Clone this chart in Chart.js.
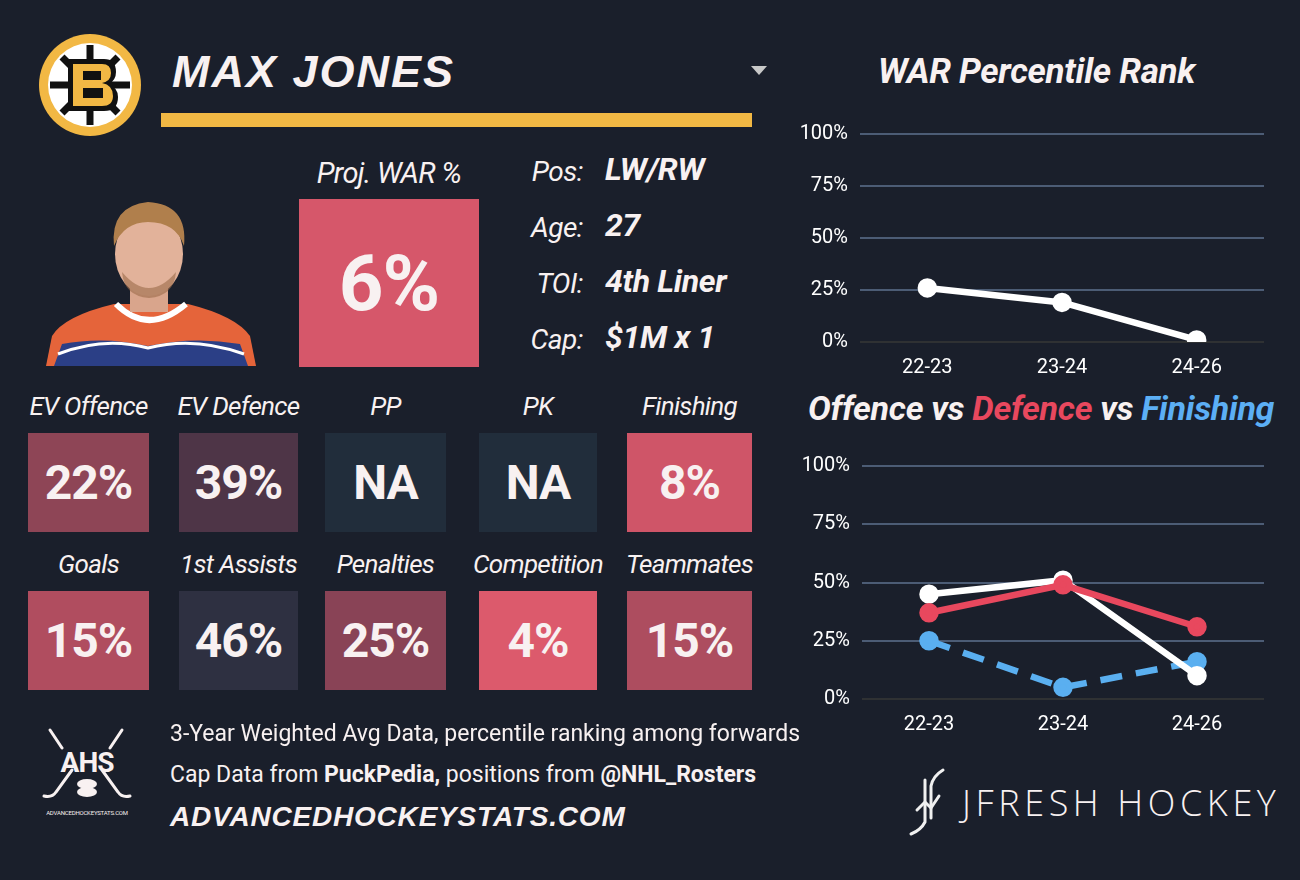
<!DOCTYPE html>
<html>
<head>
<meta charset="utf-8">
<script src="https://cdn.jsdelivr.net/npm/chart.js@4/dist/chart.umd.min.js"></script>
<style>
  body { margin: 0; background: #1a1f2b; width: 1300px; height: 880px; overflow: hidden;
         font-family: Roboto, "Noto Sans", sans-serif; color: #f8f1f1; }
  .abs { position: absolute; }
  .name { left: 172px; top: 46px; font: italic 900 45px "Liberation Sans", Arial, sans-serif; letter-spacing: 2px; }
  .bar { left: 161px; top: 113px; width: 591px; height: 14px; background: #f2b844; }
  .tri { left: 751px; top: 66px; width: 0; height: 0; border-left: 8px solid transparent;
         border-right: 8px solid transparent; border-top: 9px solid #c8c8c8; }
  .title { font: italic bold 35px Roboto, sans-serif; white-space: nowrap; letter-spacing: -0.3px; }
  .lbl { font-style: italic; font-size: 26px; text-align: center; white-space: nowrap; letter-spacing: -0.7px; }
  .tile { display: flex; align-items: center; justify-content: center;
          font: bold 48px Roboto, sans-serif; letter-spacing: -1px; }
  .info-l { font-style: italic; font-size: 28px; text-align: right; width: 90px; letter-spacing: -0.5px; }
  .info-v { font: italic bold 32px Roboto, sans-serif; letter-spacing: -0.3px; }
  .foot { left: 170px; font-size: 23px; white-space: nowrap; letter-spacing: 0px; }
  canvas { position: absolute; }
</style>
</head>
<body>

<!-- Bruins logo -->
<svg class="abs" style="left:38px;top:33px" width="104" height="104" viewBox="0 0 104 104">
  <circle cx="52" cy="52" r="51" fill="#f2b844"/>
  <circle cx="52" cy="52" r="42" fill="#fff"/>
  <g stroke="#111" stroke-width="7">
    <line x1="52" y1="12" x2="52" y2="92"/>
    <line x1="12" y1="52" x2="92" y2="52"/>
    <line x1="24" y1="24" x2="80" y2="80"/>
    <line x1="80" y1="24" x2="24" y2="80"/>
  </g>
  <path d="M30 26 H66 Q78 26 78 39 Q78 47 71 51 Q80 55 80 64 Q80 78 66 78 H30 Z" fill="#111"/>
  <path d="M35 31 H64 Q73 31 73 40 Q73 48 64 50 Q75 52 75 63 Q75 73 64 73 H35 Z" fill="#f2b844"/>
  <rect x="45" y="38" width="18" height="9" fill="#111"/>
  <rect x="45" y="55" width="20" height="10" fill="#111"/>
</svg>

<div class="abs name">MAX JONES</div>
<div class="abs tri"></div>
<div class="abs bar"></div>

<!-- player photo (stylised) -->
<svg class="abs" style="left:44px;top:196px" width="214" height="172" viewBox="0 0 214 172">
  <path d="M2 170 L8 140 Q20 120 70 108 L144 108 Q192 120 206 140 L212 170 Z" fill="#e5643a"/>
  <path d="M10 170 L18 148 Q60 140 104 150 Q150 140 196 148 L204 170 Z" fill="#2b3f86"/>
  <path d="M14 158 Q60 140 104 152 Q150 140 200 158" stroke="#fff" stroke-width="3" fill="none"/>
  <path d="M72 108 Q104 140 142 108" stroke="#fff" stroke-width="6" fill="#e5643a"/>
  <rect x="86" y="82" width="38" height="34" fill="#d9a58c"/>
  <ellipse cx="105" cy="58" rx="34" ry="42" fill="#e2b29a"/>
  <path d="M70 50 Q66 10 104 6 Q144 8 140 50 Q132 26 104 26 Q80 26 70 50 Z" fill="#b07f4c"/>
  <path d="M78 76 Q105 108 132 76 Q130 100 105 102 Q80 100 78 76 Z" fill="#9b6a4a" opacity="0.6"/>
</svg>

<div class="abs lbl" style="left:299px;top:156px;width:180px;font-size:29px">Proj. WAR %</div>
<div class="abs tile" style="left:299px;top:199px;width:180px;height:168px;background:#d6576a;font-size:78px">6%</div>

<div id="info"></div>
<div id="tiles"></div>

<div class="abs title" style="left:878px;top:51px">WAR Percentile Rank</div>
<div class="abs title" style="left:808px;top:388px;font-size:34px">Offence vs <span style="color:#e8485e">Defence</span> vs <span style="color:#5caff5">Finishing</span></div>

<canvas id="warChart"></canvas>
<canvas id="ovdChart"></canvas>

<!-- AHS logo -->
<svg class="abs" style="left:40px;top:726px" width="100" height="95" viewBox="0 0 100 95">
  <g stroke="#f8f1f1" stroke-width="3" fill="none" stroke-linecap="round">
    <line x1="10" y1="4" x2="22" y2="22"/>
    <line x1="82" y1="4" x2="70" y2="22"/>
    <path d="M32 44 L16 66 Q12 72 4 70"/>
    <path d="M62 44 L78 66 Q82 72 90 70"/>
  </g>
  <text x="47" y="46" text-anchor="middle" fill="#f8f1f1" font-family="Roboto, sans-serif" font-weight="bold" font-size="28" letter-spacing="-1">AHS</text>
  <ellipse cx="47" cy="58" rx="10" ry="5" fill="#f8f1f1"/>
  <ellipse cx="47" cy="66" rx="10" ry="5" fill="#f8f1f1"/>
  <text x="47" y="89" text-anchor="middle" fill="#f8f1f1" font-family="Roboto, sans-serif" font-size="6" letter-spacing="-0.2">ADVANCEDHOCKEYSTATS.COM</text>
</svg>

<div class="abs foot" style="top:720px">3-Year Weighted Avg Data, percentile ranking among forwards</div>
<div class="abs foot" style="top:761px">Cap Data from <b>PuckPedia,</b> positions from <b>@NHL_Rosters</b></div>
<div class="abs foot" style="top:801px;font:italic 900 28px 'Liberation Sans', Arial, sans-serif;letter-spacing:0.8px">ADVANCEDHOCKEYSTATS.COM</div>

<!-- JFresh logo -->
<svg class="abs" style="left:905px;top:766px" width="50" height="72" viewBox="0 0 50 72">
  <g stroke="#f0f0f0" stroke-width="3" fill="none" stroke-linecap="round">
    <path d="M38 4 Q28 10 26 20 L26 52"/>
    <path d="M20 14 L20 56 Q16 64 6 68"/>
    <path d="M12 44 L20 36 L26 42 L34 30"/>
  </g>
</svg>
<div class="abs" style="left:962px;top:778px;font:300 36px 'Open Sans', Lato, sans-serif;letter-spacing:4.6px;white-space:nowrap">JFRESH HOCKEY</div>

<script>
// ── data ──────────────────────────────────────────
const seasons   = ['22-23', '23-24', '24-26'];
const warPct    = [26, 19, 1];
const offence   = [45, 51, 10];
const defence   = [37, 49, 31];
const finishing = [25, 5, 16];
const yTicks    = [0, 25, 50, 75, 100];

const infoLabels = ['Pos:', 'Age:', 'TOI:', 'Cap:'];
const infoValues = ['LW/RW', '27', '4th Liner', '$1M x 1'];

const tileLabels = ['EV Offence', 'EV Defence', 'PP', 'PK', 'Finishing',
                    'Goals', '1st Assists', 'Penalties', 'Competition', 'Teammates'];
const tileValues = ['22%', '39%', 'NA', 'NA', '8%', '15%', '46%', '25%', '4%', '15%'];
const tileColors = ['#8e4556', '#4e3547', '#212d3b', '#212d3b', '#cf5568',
                    '#b04d5f', '#2e3041', '#894356', '#dc5a6c', '#ad4d5f'];

// ── info block + tiles ────────────────────────────
const info = document.getElementById('info');
infoLabels.forEach((l, i) => {
  const y = 150 + i * 56;
  info.insertAdjacentHTML('beforeend',
    `<div class="abs info-l" style="left:493px;top:${y + 5}px">${l}</div>` +
    `<div class="abs info-v" style="left:605px;top:${y}px">${infoValues[i]}</div>`);
});

const tileX = [28, 179, 325, 479, 627];
const tileW = [121, 119, 121, 118, 125];
const tiles = document.getElementById('tiles');
tileLabels.forEach((l, i) => {
  const c = i % 5, r = Math.floor(i / 5);
  const top = r ? 591 : 433;
  tiles.insertAdjacentHTML('beforeend',
    `<div class="abs lbl" style="left:${tileX[c] - 20}px;top:${top - 42}px;width:${tileW[c] + 40}px">${l}</div>` +
    `<div class="abs tile" style="left:${tileX[c]}px;top:${top}px;width:${tileW[c]}px;height:99px;background:${tileColors[i]}">${tileValues[i]}</div>`);
});

// ── charts ────────────────────────────────────────
const FONT = "Roboto, sans-serif";

function place(id, left, top, w, h) {
  const c = document.getElementById(id);
  c.style.left = left + 'px'; c.style.top = top + 'px';
  c.style.width = w + 'px'; c.style.height = h + 'px';
  c.width = w; c.height = h;
  return c;
}

function scaleOpts(xHeight) {
  return {
    x: {
      offset: true,
      grid: { display: false },
      border: { display: false },
      ticks: { color: '#ffffff', font: { family: FONT, size: 20 }, padding: 6 },
      afterFit: s => { s.height = xHeight; }
    },
    y: {
      min: 0, max: 100,
      afterBuildTicks: s => { s.ticks = yTicks.map(v => ({ value: v })); },
      grid: {
        color: ctx => ctx.tick && ctx.tick.value === 0 ? '#2f3133' : '#4c5c75',
        lineWidth: 2, drawTicks: false
      },
      border: { display: false },
      ticks: { color: '#ffffff', font: { family: FONT, size: 20 }, padding: 12,
               callback: v => v + '%' },
      afterFit: s => { s.width = 70; }
    }
  };
}

function lineSet(data, color, order, dash) {
  return {
    data, order,
    borderColor: color, backgroundColor: color,
    pointBackgroundColor: color, pointBorderColor: color,
    borderWidth: 6.5, pointRadius: 6.5, borderDash: dash || [],
    tension: 0
  };
}

const common = {
  responsive: false, animation: false,
  plugins: { legend: { display: false }, tooltip: { enabled: false } }
};

new Chart(place('warChart', 790, 110, 490, 275), {
  type: 'line',
  data: { labels: seasons, datasets: [lineSet(warPct, '#ffffff', 1)] },
  options: { ...common, layout: { padding: { top: 22, right: 16, bottom: 0, left: 0 } },
             scales: scaleOpts(43) }
});

new Chart(place('ovdChart', 790, 440, 490, 300), {
  type: 'line',
  data: {
    labels: seasons,
    datasets: [
      lineSet(offence, '#ffffff', 2),
      lineSet(defence, '#e8485e', 1),
      lineSet(finishing, '#5aaff0', 3, [22, 14])
    ]
  },
  options: { ...common, layout: { padding: { top: 26, right: 16, bottom: 0, left: 2 } },
             scales: scaleOpts(41) }
});
</script>
</body>
</html>
